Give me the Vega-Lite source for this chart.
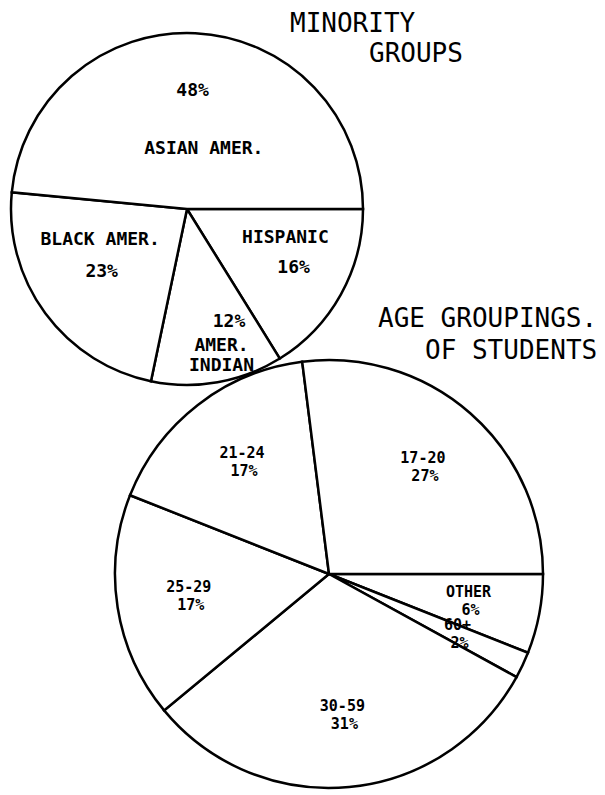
{
  "$schema": "https://vega.github.io/schema/vega-lite/v6.json",
  "width": 605,
  "height": 795,
  "padding": 0,
  "autosize": "none",
  "background": "white",
  "config": {"view": {"stroke": null}},
  "encoding": {
    "x": {"field": "chart", "type": "nominal", "axis": null,
      "scale": {"type": "point", "domain": ["MINORITY GROUPS", "AGE GROUPINGS OF STUDENTS"], "range": [187, 329], "padding": 0}},
    "y": {"field": "chart", "type": "nominal", "axis": null,
      "scale": {"type": "point", "domain": ["MINORITY GROUPS", "AGE GROUPINGS OF STUDENTS"], "range": [209, 574], "padding": 0}}
  },
  "layer": [
    {
      "data": {"values": [
        {"chart": "MINORITY GROUPS", "group": "HISPANIC", "pct": 16, "pctText": "16%", "ord": 1},
        {"chart": "MINORITY GROUPS", "group": "AMER.\nINDIAN", "pct": 12, "pctText": "12%", "ord": 2},
        {"chart": "MINORITY GROUPS", "group": "BLACK AMER.", "pct": 23, "pctText": "23%", "ord": 3},
        {"chart": "MINORITY GROUPS", "group": "ASIAN AMER.", "pct": 48, "pctText": "48%", "ord": 4}
      ]},
      "encoding": {
        "theta": {"field": "pct", "type": "quantitative", "stack": true, "scale": {"range": [1.5708, 7.854]}},
        "order": {"field": "ord", "type": "quantitative"}
      },
      "layer": [
        {"mark": {"type": "arc", "outerRadius": 176, "fill": "white", "stroke": "black", "strokeWidth": 2.5}},
        {"mark": {"type": "text",
          "radius": {"expr": "datum.pct >= 40 ? 60 : (datum.pct >= 20 ? 88 : (datum.pct >= 14 ? 100 : 141))"},
          "dx": {"expr": "datum.pct >= 40 ? 14 : (datum.pct >= 20 ? -16 : (datum.pct >= 14 ? 11 : 10))"},
          "dy": {"expr": "datum.pct >= 40 ? 0 : (datum.pct >= 20 ? -21 : (datum.pct >= 14 ? -20 : -2))"},
          "lineBreak": "\n", "lineHeight": 20, "font": "DejaVu Sans Mono", "fontWeight": "bold", "fontSize": 18,
          "align": "center", "baseline": "middle", "color": "black"},
         "encoding": {"text": {"field": "group"}}},
        {"mark": {"type": "text",
          "radius": {"expr": "datum.pct >= 40 ? 118 : (datum.pct >= 20 ? 106 : (datum.pct >= 14 ? 122 : 115))"},
          "dx": {"expr": "datum.pct < 14 ? 22 : 0"},
          "font": "DejaVu Sans Mono", "fontWeight": "bold", "fontSize": 18,
          "align": "center", "baseline": "middle", "color": "black"},
         "encoding": {"text": {"field": "pctText"}}}
      ]
    },
    {
      "data": {"values": [
        {"chart": "AGE GROUPINGS OF STUDENTS", "group": "OTHER", "pct": 6, "pctText": "6%", "ord": 1},
        {"chart": "AGE GROUPINGS OF STUDENTS", "group": "60+", "pct": 2, "pctText": "2%", "ord": 2},
        {"chart": "AGE GROUPINGS OF STUDENTS", "group": "30-59", "pct": 31, "pctText": "31%", "ord": 3},
        {"chart": "AGE GROUPINGS OF STUDENTS", "group": "25-29", "pct": 17, "pctText": "17%", "ord": 4},
        {"chart": "AGE GROUPINGS OF STUDENTS", "group": "21-24", "pct": 17, "pctText": "17%", "ord": 5},
        {"chart": "AGE GROUPINGS OF STUDENTS", "group": "17-20", "pct": 27, "pctText": "27%", "ord": 6}
      ]},
      "encoding": {
        "theta": {"field": "pct", "type": "quantitative", "stack": true, "scale": {"range": [1.5708, 7.854]}},
        "order": {"field": "ord", "type": "quantitative"}
      },
      "layer": [
        {"mark": {"type": "arc", "outerRadius": 214, "fill": "white", "stroke": "black", "strokeWidth": 2.5}},
        {"mark": {"type": "text", "radius": 142, "dy": -9,
          "font": "DejaVu Sans Mono", "fontWeight": "bold", "fontSize": 15,
          "align": "center", "baseline": "middle", "color": "black"},
         "encoding": {"text": {"field": "group"}}},
        {"mark": {"type": "text", "radius": 142, "dy": 9, "dx": 2,
          "font": "DejaVu Sans Mono", "fontWeight": "bold", "fontSize": 15,
          "align": "center", "baseline": "middle", "color": "black"},
         "encoding": {"text": {"field": "pctText"}}}
      ]
    },
    {
      "data": {"values": [{"chart": "MINORITY GROUPS", "line": "MINORITY"}]},
      "mark": {"type": "text", "dx": 103, "dy": -185, "align": "left", "baseline": "middle", "font": "DejaVu Sans Mono", "fontSize": 26, "color": "black"},
      "encoding": {"text": {"field": "line"}}
    },
    {
      "data": {"values": [{"chart": "MINORITY GROUPS", "line": "GROUPS"}]},
      "mark": {"type": "text", "dx": 182, "dy": -155, "align": "left", "baseline": "middle", "font": "DejaVu Sans Mono", "fontSize": 26, "color": "black"},
      "encoding": {"text": {"field": "line"}}
    },
    {
      "data": {"values": [{"chart": "AGE GROUPINGS OF STUDENTS", "line": "AGE GROUPINGS."}]},
      "mark": {"type": "text", "dx": 49, "dy": -255, "align": "left", "baseline": "middle", "font": "DejaVu Sans Mono", "fontSize": 26, "color": "black"},
      "encoding": {"text": {"field": "line"}}
    },
    {
      "data": {"values": [{"chart": "AGE GROUPINGS OF STUDENTS", "line": "OF STUDENTS"}]},
      "mark": {"type": "text", "dx": 96, "dy": -223, "align": "left", "baseline": "middle", "font": "DejaVu Sans Mono", "fontSize": 26, "color": "black"},
      "encoding": {"text": {"field": "line"}}
    }
  ],
  "resolve": {"scale": {"theta": "independent"}}
}
